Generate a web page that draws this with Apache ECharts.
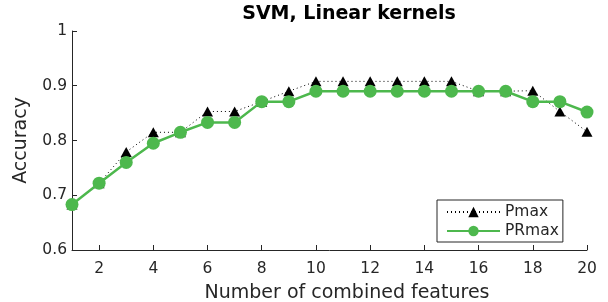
<!DOCTYPE html>
<html>
<head>
<meta charset="utf-8">
<script src="https://cdn.jsdelivr.net/npm/echarts@6/dist/echarts.min.js"></script>
<style>
  html, body { margin: 0; padding: 0; background: #fff; }
  #chart { width: 608px; height: 302px; }
</style>
</head>
<body>
<div id="chart"></div>
<script>
// number of combined features
let features = [1, 2, 3, 4, 5, 6, 7, 8, 9, 10, 11, 12, 13, 14, 15, 16, 17, 18, 19, 20];
let pmax = [0.683, 0.722, 0.779, 0.815, 0.815, 0.853, 0.853, 0.871, 0.890, 0.908,
            0.908, 0.908, 0.908, 0.908, 0.908, 0.890, 0.890, 0.891, 0.853, 0.816];
let prmax = [0.683, 0.722, 0.760, 0.795, 0.815, 0.833, 0.833, 0.871, 0.871, 0.890,
             0.890, 0.890, 0.890, 0.890, 0.890, 0.890, 0.890, 0.871, 0.871, 0.852];
let xTicks = [2, 4, 6, 8, 10, 12, 14, 16, 18, 20];

let font = 'DejaVu Sans';
let ink = '#262626';
let green = '#4DB84D';

let pairs = arr => features.map((f, i) => [f, arr[i]]);

let option = {
    animation: false,
    textStyle: { fontFamily: font },
    title: {
        text: 'SVM, Linear kernels',
        left: 344,
        textAlign: 'center',
        top: 0,
        textStyle: { fontFamily: font, fontSize: 19, fontWeight: 'bold', color: '#000' }
    },
    grid: { left: 72, right: 21, top: 31, bottom: 52, outerBoundsMode: 'none', containLabel: false },
    legend: {
        left: 437,
        top: 200,
        orient: 'vertical',
        itemWidth: 53,
        itemHeight: 13,
        itemGap: 3,
        padding: [4, 4, 3, 9],
        borderColor: ink,
        borderWidth: 1,
        backgroundColor: '#fff',
        textStyle: { fontFamily: font, fontSize: 15.5, color: ink },
        data: ['Pmax', 'PRmax']
    },
    xAxis: {
        type: 'value',
        min: 1,
        max: 20,
        name: 'Number of combined features',
        nameLocation: 'middle',
        nameGap: 34,
        nameTextStyle: { fontSize: 19, color: ink, padding: [0, 0, 0, 35] },
        axisLine: { lineStyle: { color: ink, width: 1 } },
        axisTick: { inside: true, length: 5, lineStyle: { color: ink }, customValues: xTicks },
        axisLabel: { fontSize: 15.5, color: ink, margin: 11, customValues: xTicks },
        splitLine: { show: false }
    },
    yAxis: {
        type: 'value',
        min: 0.6,
        max: 1,
        interval: 0.1,
        name: 'Accuracy',
        nameLocation: 'middle',
        nameGap: 41,
        nameTextStyle: { fontSize: 19, color: ink },
        axisLine: { show: true, lineStyle: { color: ink, width: 1 } },
        axisTick: { show: true, inside: true, length: 5, lineStyle: { color: ink } },
        axisLabel: { fontSize: 15.5, color: ink, margin: 5 },
        splitLine: { show: false }
    },
    series: [
        {
            name: 'Pmax',
            type: 'line',
            data: pairs(pmax),
            symbol: 'triangle',
            symbolSize: [11, 10],
            itemStyle: { color: '#000' },
            lineStyle: { color: '#000', width: 1, type: [1, 3] },
            z: 2
        },
        {
            name: 'PRmax',
            type: 'line',
            data: pairs(prmax),
            symbol: 'circle',
            symbolSize: 13,
            itemStyle: { color: green },
            lineStyle: { color: green, width: 2.5 },
            z: 3
        }
    ]
};

let myChart = echarts.init(document.getElementById('chart'));
myChart.setOption(option);
</script>
</body>
</html>
